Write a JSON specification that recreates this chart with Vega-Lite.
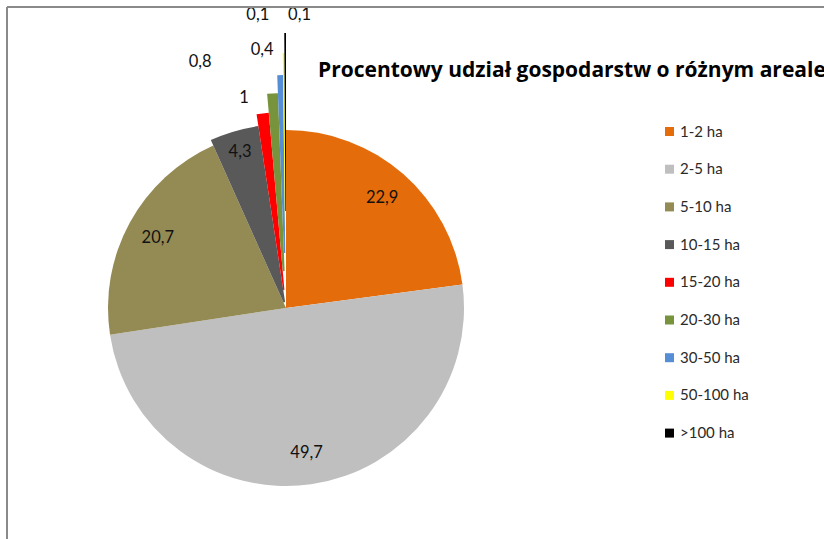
{
  "$schema": "https://vega.github.io/schema/vega-lite/v6.json",
  "width": 558,
  "height": 602,
  "autosize": {"type": "none"},
  "padding": {"left": 7, "top": 7, "right": 259, "bottom": 0},
  "background": "white",
  "title": {
    "text": "Procentowy udział gospodarstw o różnym areale",
    "anchor": "start",
    "frame": "group",
    "orient": "top",
    "font": "Open Sans",
    "fontSize": 21,
    "fontWeight": "bold",
    "color": "#000000",
    "dx": 311,
    "dy": 75,
    "offset": 0
  },
  "config": {
    "view": {"stroke": null},
    "text": {"font": "Lato", "fontSize": 16.5, "color": "#111111"}
  },
  "data": {
    "values": [
      {"klasa": "1-2 ha", "udzial": 22.9, "etykieta": "22,9", "kolejnosc": 1},
      {"klasa": "2-5 ha", "udzial": 49.7, "etykieta": "49,7", "kolejnosc": 2},
      {"klasa": "5-10 ha", "udzial": 20.7, "etykieta": "20,7", "kolejnosc": 3},
      {"klasa": "10-15 ha", "udzial": 4.3, "etykieta": "4,3", "kolejnosc": 4},
      {"klasa": "15-20 ha", "udzial": 1.0, "etykieta": "1", "kolejnosc": 5},
      {"klasa": "20-30 ha", "udzial": 0.8, "etykieta": "0,8", "kolejnosc": 6},
      {"klasa": "30-50 ha", "udzial": 0.4, "etykieta": "0,4", "kolejnosc": 7},
      {"klasa": "50-100 ha", "udzial": 0.1, "etykieta": "0,1", "kolejnosc": 8},
      {"klasa": ">100 ha", "udzial": 0.1, "etykieta": "0,1", "kolejnosc": 9}
    ]
  },
  "transform": [
    {"stack": "udzial", "groupby": [], "sort": [{"field": "kolejnosc", "order": "ascending"}], "as": ["u0", "u1"]}
  ],
  "layer": [
    {
      "transform": [{"filter": "datum.kolejnosc <= 3"}],
      "mark": {"type": "arc", "radius": 178},
      "encoding": {
        "theta": {"field": "u0", "type": "quantitative", "scale": {"domain": [0, 100]}},
        "theta2": {"field": "u1"},
        "color": {
          "field": "klasa", "type": "nominal",
          "scale": {
            "domain": ["1-2 ha", "2-5 ha", "5-10 ha", "10-15 ha", "15-20 ha", "20-30 ha", "30-50 ha", "50-100 ha", ">100 ha"],
            "range": ["#E46C0A", "#BFBFBF", "#948A54", "#595959", "#FF0000", "#77933C", "#558ED5", "#FFFF00", "#000000"]
          },
          "legend": {
            "title": null,
            "orient": "none",
            "legendX": 655,
            "legendY": 117,
            "padding": 0,
            "symbolType": "square",
            "symbolSize": 81,
            "symbolStrokeWidth": 0,
            "labelFont": "Lato",
            "labelFontSize": 15,
            "labelColor": "#2a2a2a",
            "labelOffset": 3,
            "rowPadding": 21.7
          }
        }
      }
    },
    {
      "transform": [{"filter": "datum.kolejnosc == 4"}],
      "mark": {"type": "arc", "radius": 184, "radius2": 6},
      "encoding": {
        "theta": {"field": "u0", "type": "quantitative", "scale": {"domain": [0, 100]}},
        "theta2": {"field": "u1"},
        "color": {"field": "klasa", "type": "nominal"}
      }
    },
    {
      "transform": [{"filter": "datum.kolejnosc == 5"}],
      "mark": {"type": "arc", "radius": 196, "radius2": 18},
      "encoding": {
        "theta": {"field": "u0", "type": "quantitative", "scale": {"domain": [0, 100]}},
        "theta2": {"field": "u1"},
        "color": {"field": "klasa", "type": "nominal"}
      }
    },
    {
      "transform": [{"filter": "datum.kolejnosc == 6"}],
      "mark": {"type": "arc", "radius": 215, "radius2": 37},
      "encoding": {
        "theta": {"field": "u0", "type": "quantitative", "scale": {"domain": [0, 100]}},
        "theta2": {"field": "u1"},
        "color": {"field": "klasa", "type": "nominal"}
      }
    },
    {
      "transform": [{"filter": "datum.kolejnosc == 7"}],
      "mark": {"type": "arc", "radius": 233, "radius2": 55},
      "encoding": {
        "theta": {"field": "u0", "type": "quantitative", "scale": {"domain": [0, 100]}},
        "theta2": {"field": "u1"},
        "color": {"field": "klasa", "type": "nominal"}
      }
    },
    {
      "transform": [{"filter": "datum.kolejnosc == 8"}],
      "mark": {"type": "arc", "radius": 255, "radius2": 77},
      "encoding": {
        "theta": {"field": "u0", "type": "quantitative", "scale": {"domain": [0, 100]}},
        "theta2": {"field": "u1"},
        "color": {"field": "klasa", "type": "nominal"}
      }
    },
    {
      "transform": [{"filter": "datum.kolejnosc == 9"}],
      "mark": {"type": "arc", "radius": 275, "radius2": 97},
      "encoding": {
        "theta": {"field": "u0", "type": "quantitative", "scale": {"domain": [0, 100]}},
        "theta2": {"field": "u1"},
        "color": {"field": "klasa", "type": "nominal"}
      }
    },
    {
      "mark": {"type": "text", "radius": 146},
      "encoding": {
        "theta": {"field": "udzial", "type": "quantitative", "stack": true, "scale": {"domain": [0, 100]}},
        "order": {"field": "kolejnosc", "type": "quantitative"},
        "text": {"condition": {"test": "datum.kolejnosc <= 3", "field": "etykieta"}, "value": ""}
      }
    },
    {
      "mark": {"type": "text", "radius": 163},
      "encoding": {
        "theta": {"field": "udzial", "type": "quantitative", "stack": true, "scale": {"domain": [0, 100]}},
        "order": {"field": "kolejnosc", "type": "quantitative"},
        "text": {"condition": {"test": "datum.kolejnosc == 4", "field": "etykieta"}, "value": ""}
      }
    },
    {
      "mark": {"type": "text", "radius": 212, "align": "right", "dx": -12},
      "encoding": {
        "theta": {"field": "udzial", "type": "quantitative", "stack": true, "scale": {"domain": [0, 100]}},
        "order": {"field": "kolejnosc", "type": "quantitative"},
        "text": {"condition": {"test": "datum.kolejnosc == 5", "field": "etykieta"}, "value": ""}
      }
    },
    {
      "mark": {"type": "text", "radius": 246, "align": "right", "dx": -59},
      "encoding": {
        "theta": {"field": "udzial", "type": "quantitative", "stack": true, "scale": {"domain": [0, 100]}},
        "order": {"field": "kolejnosc", "type": "quantitative"},
        "text": {"condition": {"test": "datum.kolejnosc == 6", "field": "etykieta"}, "value": ""}
      }
    },
    {
      "mark": {"type": "text", "radius": 258, "align": "right", "dx": -6},
      "encoding": {
        "theta": {"field": "udzial", "type": "quantitative", "stack": true, "scale": {"domain": [0, 100]}},
        "order": {"field": "kolejnosc", "type": "quantitative"},
        "text": {"condition": {"test": "datum.kolejnosc == 7", "field": "etykieta"}, "value": ""}
      }
    },
    {
      "mark": {"type": "text", "radius": 293, "align": "right", "dx": -14},
      "encoding": {
        "theta": {"field": "udzial", "type": "quantitative", "stack": true, "scale": {"domain": [0, 100]}},
        "order": {"field": "kolejnosc", "type": "quantitative"},
        "text": {"condition": {"test": "datum.kolejnosc == 8", "field": "etykieta"}, "value": ""}
      }
    },
    {
      "mark": {"type": "text", "radius": 293, "align": "left", "dx": 3},
      "encoding": {
        "theta": {"field": "udzial", "type": "quantitative", "stack": true, "scale": {"domain": [0, 100]}},
        "order": {"field": "kolejnosc", "type": "quantitative"},
        "text": {"condition": {"test": "datum.kolejnosc == 9", "field": "etykieta"}, "value": ""}
      }
    },
    {
      "data": {"values": [{"ramka": "lewa"}]},
      "mark": {"type": "rule", "color": "#8a8a8a", "strokeWidth": 2, "clip": false},
      "encoding": {
        "x": {"datum": 0, "type": "quantitative", "scale": {"domain": [0, 1]}, "axis": null}
      }
    },
    {
      "data": {"values": [{"ramka": "gorna"}]},
      "mark": {"type": "rule", "color": "#8a8a8a", "strokeWidth": 2, "clip": false},
      "encoding": {
        "y": {"datum": 1, "type": "quantitative", "scale": {"domain": [0, 1]}, "axis": null},
        "x": {"datum": 0, "type": "quantitative", "scale": {"domain": [0, 1]}, "axis": null},
        "x2": {"datum": 1.6}
      }
    }
  ]
}
